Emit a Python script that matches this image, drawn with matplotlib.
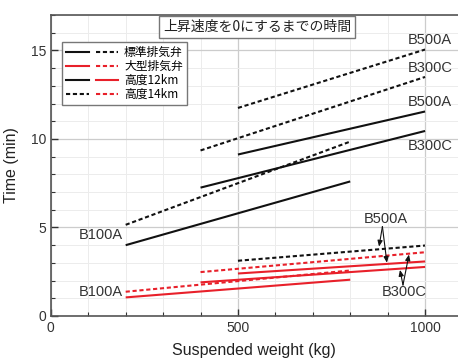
import matplotlib
matplotlib.use("Agg")
import matplotlib.pyplot as plt
from matplotlib.lines import Line2D
from matplotlib.legend_handler import HandlerTuple
from matplotlib.ticker import MultipleLocator

plt.rcParams['font.family'] = ['Liberation Sans', 'Noto Sans CJK JP', 'DejaVu Sans']

# Time to bring ascent rate to zero, per balloon / valve / altitude
# each series: (x start, x end), (y start, y end)
b100a_std_12 = ([200, 800], [4.0, 7.6])
b100a_std_14 = ([200, 800], [5.15, 9.85])
b300c_std_12 = ([400, 1000], [7.25, 10.45])
b300c_std_14 = ([400, 1000], [9.35, 13.5])
b500a_std_12 = ([500, 1000], [9.12, 11.55])
b500a_std_14 = ([500, 1000], [11.75, 15.05])

b100a_big_12 = ([200, 800], [1.05, 2.05])
b100a_big_14 = ([200, 800], [1.37, 2.57])
b300c_big_12 = ([400, 1000], [1.9, 2.77])
b300c_big_14 = ([400, 1000], [2.48, 3.6])
b500a_big_12 = ([500, 1000], [2.4, 3.08])
b500a_big_14 = ([500, 1000], [3.12, 3.98])

BLACK = '#111111'
RED = '#e8202a'
DASH = (0, (2.0, 1.3))

fig = plt.figure(figsize=(4.58, 3.63), dpi=100)
ax = fig.add_axes([0.111, 0.1295, 0.889, 0.8292])

solid_kw = dict(lw=1.5, solid_capstyle='butt')
dash_kw = dict(lw=1.5, linestyle=DASH)

for s in (b100a_std_12, b300c_std_12, b500a_std_12):
    ax.plot(*s, color=BLACK, **solid_kw)
for s in (b100a_std_14, b300c_std_14, b500a_std_14):
    ax.plot(*s, color=BLACK, **dash_kw)
for s in (b100a_big_12, b300c_big_12, b500a_big_12):
    ax.plot(*s, color=RED, **solid_kw)
for s in (b100a_big_14, b300c_big_14):
    ax.plot(*s, color=RED, **dash_kw)
ax.plot(*b500a_big_14, color=BLACK, **dash_kw)

ax.set_xlim(0, 1088)
ax.set_ylim(0, 17)
ax.xaxis.set_major_locator(MultipleLocator(500))
ax.xaxis.set_minor_locator(MultipleLocator(100))
ax.yaxis.set_major_locator(MultipleLocator(5))
ax.yaxis.set_minor_locator(MultipleLocator(1))
ax.grid(which='major', color='#cccccc', lw=0.9)
ax.grid(which='minor', color='#ececec', lw=0.7)
ax.set_axisbelow(True)
ax.tick_params(which='both', direction='in', labelsize=10, colors='#333333')
ax.tick_params(which='major', length=5, width=1)
ax.tick_params(which='minor', length=3, width=0.8)
ax.spines['right'].set_visible(False)
for sp in ('left', 'bottom', 'top'):
    ax.spines[sp].set_color('#555555')
    ax.spines[sp].set_linewidth(1.2)

ax.set_xlabel('Suspended weight (kg)', fontsize=11.5, color='#222222', labelpad=6)
ax.set_ylabel('Time (min)', fontsize=11.5, color='#222222', labelpad=8)

# curve labels
lab_kw = dict(fontsize=10.5, color='#333333')
ax.text(955, 15.6, 'B500A', ha='left', va='center', **lab_kw)
ax.text(955, 14.0, 'B300C', ha='left', va='center', **lab_kw)
ax.text(955, 12.1, 'B500A', ha='left', va='center', **lab_kw)
ax.text(955, 9.6, 'B300C', ha='left', va='center', **lab_kw)
ax.text(192, 4.55, 'B100A', ha='right', va='center', **lab_kw)
ax.text(192, 1.33, 'B100A', ha='right', va='center', **lab_kw)
ax.text(896, 5.45, 'B500A', ha='center', va='center', **lab_kw)
ax.text(943, 1.33, 'B300C', ha='center', va='center', **lab_kw)

arr = dict(arrowstyle='-|>,head_length=0.35,head_width=0.15', color='#111111', lw=0.8,
           shrinkA=0, shrinkB=0)
for tgt in ((877, 3.92), (898, 3.01)):
    ax.annotate('', xy=tgt, xytext=(886, 5.05), arrowprops=arr)
for tgt in ((933, 2.6), (957, 3.47)):
    ax.annotate('', xy=tgt, xytext=(941, 1.75), arrowprops=arr)

# title box
ax.text(0.506, 0.961, '上昇速度を0にするまでの時間', transform=ax.transAxes,
        ha='center', va='center', fontsize=10, family=['Noto Sans CJK JP', 'DejaVu Sans'],
        color='#222222',
        bbox=dict(boxstyle='square,pad=0.3', fc='white', ec='#777777', lw=1.0))

# legend with paired handles
def h(color, ls):
    return Line2D([], [], color=color, lw=1.5, linestyle=ls)

handles = [(h(BLACK, '-'), h(BLACK, DASH)),
           (h(RED, '-'), h(RED, DASH)),
           (h(BLACK, '-'), h(RED, '-')),
           (h(BLACK, DASH), h(RED, DASH))]
labels = ['標準排気弁', '大型排気弁', '高度12km', '高度14km']
leg = ax.legend(handles, labels, handler_map={tuple: HandlerTuple(ndivide=None, pad=0.6)},
                loc='upper left', bbox_to_anchor=(0.013, 0.93), handlelength=4.4,
                handletextpad=0.5, labelspacing=0.08, borderpad=0.35,
                fancybox=False, edgecolor='#777777', framealpha=1,
                prop={'family': ['Noto Sans CJK JP', 'DejaVu Sans'], 'size': 8.5})
leg.get_frame().set_linewidth(1.0)

fig.savefig('out.png', dpi=100)
